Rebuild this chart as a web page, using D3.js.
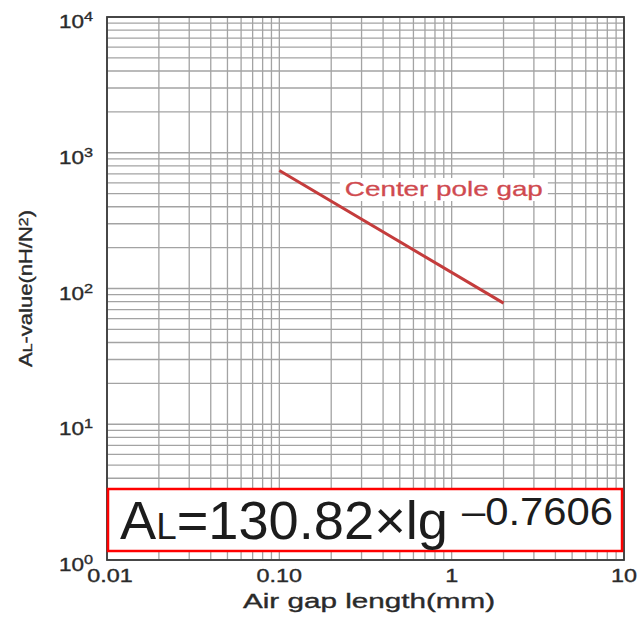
<!DOCTYPE html>
<html>
<head>
<meta charset="utf-8">
<script src="https://cdn.jsdelivr.net/npm/d3@7/dist/d3.min.js"></script>
<style>
  body { margin: 0; background: #fff; }
  text { font-family: "Liberation Sans", Arial, Helvetica, sans-serif; }
  .lbl { fill: #2a2a2a; stroke: #2a2a2a; stroke-width: 0.35; }
</style>
</head>
<body>
<div id="chart"></div>
<script>
// values
const xTickValues = [0.01, 0.1, 1, 10]
const xTickLabels = ["0.01", "0.10", "1", "10"]
const yTickExponents = [0, 1, 2, 3, 4]
const gapLength = [0.1, 2]        // mm
const alValue = [740, 78]         // nH/N^2
const seriesName = "Center pole gap"

var width = 644
var height = 621
var margin = {top: 17, right: 20, bottom: 61, left: 107}
var innerW = width - margin.left - margin.right
var innerH = height - margin.top - margin.bottom

var svg = d3.select("#chart")
  .append("svg")
    .attr("width", width)
    .attr("height", height)

var x = d3.scaleLog()
  .domain([0.01, 10])
  .range([margin.left, margin.left + innerW])

var y = d3.scaleLog()
  .domain([1, 10000])
  .range([margin.top + innerH, margin.top])

var grid = svg.append("g")
  .attr("stroke", "#a3a3a3")
  .attr("stroke-width", 1.3)

grid.selectAll("line.v")
  .data(x.ticks())
  .enter()
  .append("line")
    .attr("x1", d => x(d)).attr("x2", d => x(d))
    .attr("y1", margin.top).attr("y2", margin.top + innerH)

grid.selectAll("line.h")
  .data(y.ticks())
  .enter()
  .append("line")
    .attr("x1", margin.left).attr("x2", margin.left + innerW)
    .attr("y1", d => y(d)).attr("y2", d => y(d))

// frame
svg.append("rect")
  .attr("x", margin.left).attr("y", margin.top)
  .attr("width", innerW).attr("height", innerH)
  .attr("fill", "none")
  .attr("stroke", "#3a3a3a")
  .attr("stroke-width", 1.8)

// series line
var pts = gapLength.map((g, i) => [g, alValue[i]])
svg.append("path")
  .datum(pts)
  .attr("fill", "none")
  .attr("stroke", "#c43c3c")
  .attr("stroke-width", 3)
  .attr("d", d3.line().x(d => x(d[0])).y(d => y(d[1])))

// series label with white backing
var lx = x(0.24), ly = y(480)
svg.append("rect")
  .attr("x", lx - 5).attr("y", ly - 18)
  .attr("width", 208).attr("height", 23)
  .attr("fill", "#fff")
svg.append("text")
  .attr("x", lx).attr("y", ly)
  .attr("font-size", 21)
  .attr("fill", "#d04a4f")
  .attr("stroke", "#d04a4f")
  .attr("stroke-width", 0.3)
  .attr("textLength", 198)
  .attr("lengthAdjust", "spacingAndGlyphs")
  .text(seriesName)

// y tick labels
var yl = svg.append("g")
yTickExponents.forEach(e => {
  var t = yl.append("text")
    .attr("class", "lbl")
    .attr("text-anchor", "end")
    .attr("font-size", 18)
    .attr("transform", `translate(93,${y(Math.pow(10, e)) + 11}) scale(1.25,1)`)
  t.append("tspan").text("10")
  t.append("tspan").attr("font-size", 13).attr("dy", -7).text(e)
})

// x tick labels
svg.append("g").selectAll("text")
  .data(xTickValues)
  .enter()
  .append("text")
    .attr("class", "lbl")
    .attr("text-anchor", "middle")
    .attr("font-size", 18)
    .attr("transform", (d, i) => `translate(${x(d) + (i == 0 ? 3 : 0)},582) scale(1.3,1)`)
    .text((d, i) => xTickLabels[i])

// axis titles
svg.append("text")
  .attr("class", "lbl")
  .attr("x", 243).attr("y", 608)
  .attr("font-size", 20)
  .attr("textLength", 252)
  .attr("lengthAdjust", "spacingAndGlyphs")
  .text("Air gap length(mm)")

var yt = svg.append("text")
  .attr("class", "lbl")
  .attr("transform", "translate(32,367) rotate(-90)")
  .attr("font-size", 18)
  .attr("textLength", 157)
  .attr("lengthAdjust", "spacingAndGlyphs")
yt.append("tspan").text("A")
yt.append("tspan").attr("font-size", 13).text("L")
yt.append("tspan").text("-value(nH/N")
yt.append("tspan").attr("font-size", 13).attr("dy", -4).text("2")
yt.append("tspan").attr("dy", 4).text(")")

// formula box
svg.append("rect")
  .attr("x", 108).attr("y", 489)
  .attr("width", 514).attr("height", 62)
  .attr("fill", "#fff")
  .attr("stroke", "#f00")
  .attr("stroke-width", 2.5)

var f = svg.append("text")
  .attr("x", 120).attr("y", 539)
  .attr("font-size", 53)
  .attr("fill", "#1c1c1c")
  .attr("textLength", 328)
  .attr("lengthAdjust", "spacingAndGlyphs")
f.append("tspan").text("A")
f.append("tspan").attr("font-size", 36).text("L")
f.append("tspan").text("=130.82\u00d7lg")

svg.append("text")
  .attr("x", 462).attr("y", 525)
  .attr("font-size", 38)
  .attr("fill", "#1c1c1c")
  .attr("textLength", 151)
  .attr("lengthAdjust", "spacingAndGlyphs")
  .text("\u20130.7606")
</script>
</body>
</html>
